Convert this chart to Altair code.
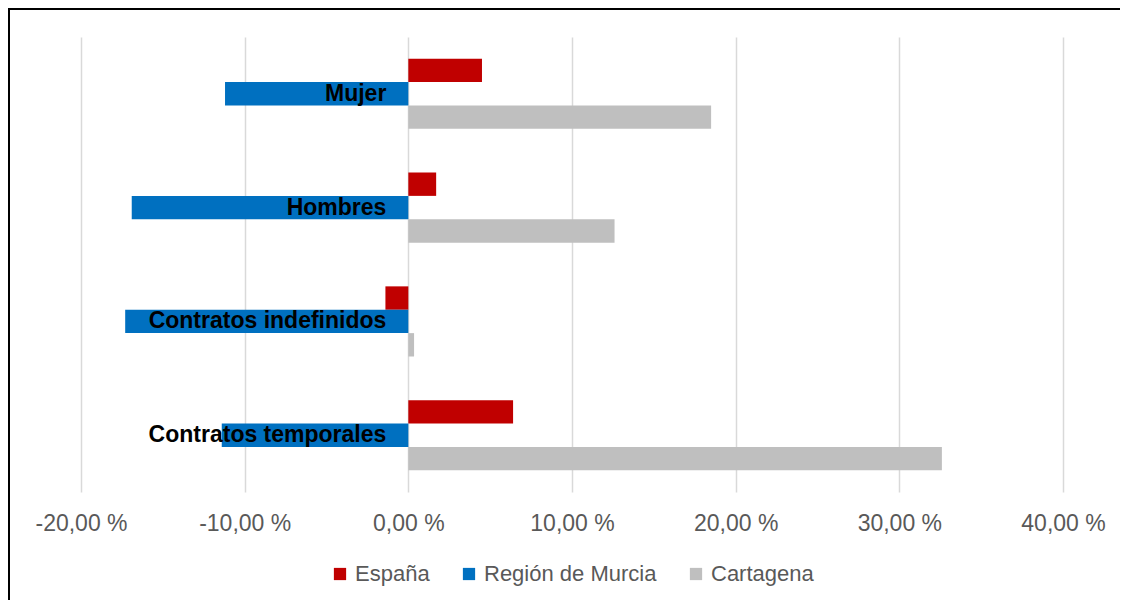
import altair as alt
import pandas as pd

categorias = ["Mujer", "Hombres", "Contratos indefinidos", "Contratos temporales"]
series = ["España", "Región de Murcia", "Cartagena"]
espana = [4.5, 1.7, -1.4, 6.4]
murcia = [-11.2, -16.9, -17.3, -11.4]
cartagena = [18.5, 12.6, 0.35, 32.6]
colores = ["#C00000", "#0070C0", "#BFBFBF"]
ticks = [-20, -10, 0, 10, 20, 30, 40]

rows = []
for i, c in enumerate(categorias):
    for s, vals in zip(series, [espana, murcia, cartagena]):
        rows.append({"cat": c, "serie": s, "valor": vals[i]})
df = pd.DataFrame(rows)
df_lab = pd.DataFrame({"cat": categorias})

FONT = "Liberation Sans"

x_scale = alt.Scale(domain=[-20, 40], nice=False, zero=False)
y_enc = alt.Y("cat:N", sort=categorias, axis=None,
              scale=alt.Scale(paddingInner=0.384, paddingOuter=0.19))

bars = alt.Chart(df).mark_bar(cornerRadius=0).encode(
    x=alt.X("valor:Q", scale=x_scale,
            axis=alt.Axis(values=ticks, title=None, grid=True, gridColor="#D9D9D9",
                          gridWidth=1.5, domain=False, ticks=False, labelPadding=20,
                          labelFlush=False, labelOverlap=False,
                          labelFontSize=23, labelColor="#595959", labelFont=FONT,
                          labelExpr="replace(replace(format(datum.value, '.2f'), '.', ','), '\u2212', '-') + ' %'")),
    x2=alt.datum(0),
    y=y_enc,
    yOffset=alt.YOffset("serie:N", sort=series,
                        scale=alt.Scale(paddingInner=0, paddingOuter=0)),
    color=alt.Color("serie:N", sort=series,
                    scale=alt.Scale(domain=series, range=colores),
                    legend=alt.Legend(title=None, orient="none", direction="horizontal",
                                      legendX=248, legendY=526, symbolType="square",
                                      symbolSize=150, symbolStrokeWidth=0,
                                      labelFontSize=22, labelColor="#595959",
                                      labelFont=FONT, columnPadding=28, labelLimit=0,
                                      labelOffset=4)),
)

labels = alt.Chart(df_lab).mark_text(
    align="right", baseline="middle", dx=-22, fontSize=23, fontWeight="bold",
    font=FONT, color="black"
).encode(
    x=alt.datum(0),
    y=alt.Y("cat:N", sort=categorias, axis=None),
    text="cat:N",
)

frame_top = alt.Chart(df_lab).mark_rule(color="black", strokeWidth=2).encode(
    x=alt.value(-73), x2=alt.value(1039), y=alt.value(-28)
)
frame_left = alt.Chart(df_lab).mark_rule(color="black", strokeWidth=2).encode(
    x=alt.value(-72), y=alt.value(-29), y2=alt.value(565)
)

chart = alt.layer(bars, labels, frame_top, frame_left).properties(
    width=982, height=455,
    autosize=alt.AutoSizeParams(type="none"),
    padding={"left": 73, "top": 29, "right": 57, "bottom": 108},
).configure(background="white").configure_view(stroke=None)

chart.save("out.html", embed_options={"renderer": "svg", "actions": False})
